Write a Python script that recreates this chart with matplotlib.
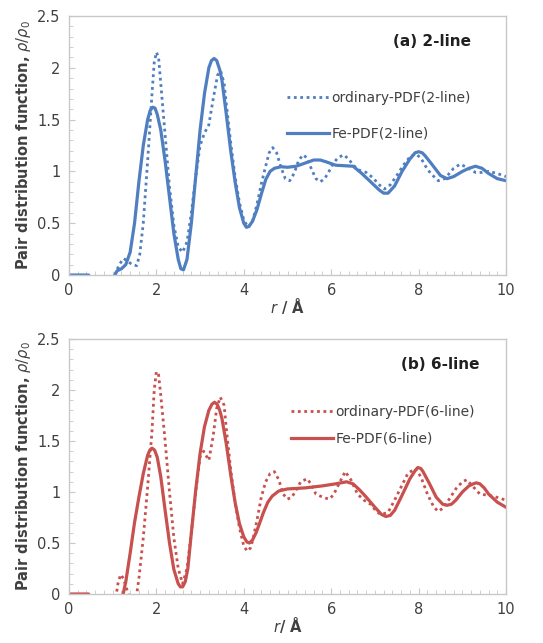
import matplotlib
matplotlib.use('Agg')
import matplotlib.pyplot as plt
from matplotlib.ticker import MultipleLocator, FormatStrFormatter

# ---- (a) 2-line ----
r_fe_2 = [0, 0.45, 0.6, 0.8, 1.0, 1.05, 1.1, 1.2, 1.3, 1.4, 1.5, 1.6, 1.7, 1.8, 1.86, 1.92, 1.97, 2.02,
          2.1, 2.2, 2.3, 2.4, 2.5, 2.56, 2.62, 2.7, 2.8, 2.9, 3.0, 3.1, 3.2, 3.26, 3.32, 3.38, 3.45, 3.5,
          3.6, 3.7, 3.8, 3.9, 4.0, 4.06, 4.12, 4.2, 4.3, 4.4, 4.5, 4.6, 4.7, 4.85, 5.0, 5.2, 5.4, 5.6,
          5.75, 5.9, 6.1, 6.3, 6.5, 6.7, 6.9, 7.1, 7.2, 7.3, 7.45, 7.62, 7.8, 7.92, 8.0, 8.08, 8.15, 8.3,
          8.5, 8.65, 8.8, 9.0, 9.15, 9.3, 9.45, 9.6, 9.8, 10.0]
g_fe_2 = [0, 0, -0.15, -0.2, -0.05, 0, 0.04, 0.06, 0.1, 0.22, 0.5, 0.9, 1.25, 1.5, 1.59, 1.62, 1.61,
          1.55, 1.4, 1.1, 0.75, 0.4, 0.15, 0.06, 0.05, 0.15, 0.5, 0.95, 1.4, 1.75, 2.0, 2.07, 2.09, 2.07,
          1.98, 1.88, 1.55, 1.2, 0.9, 0.65, 0.5, 0.46, 0.47, 0.52, 0.63, 0.78, 0.92, 1.0, 1.03, 1.045,
          1.04, 1.05, 1.08, 1.11, 1.11, 1.09, 1.06, 1.055, 1.05, 0.98, 0.9, 0.82, 0.79, 0.79, 0.86, 1.0,
          1.12, 1.18, 1.19, 1.18, 1.15, 1.07, 0.96, 0.93, 0.95, 1.0, 1.03, 1.05, 1.03, 0.98, 0.93, 0.91]

r_ord_2 = [1.05, 1.15, 1.25, 1.35, 1.45, 1.55, 1.62, 1.7, 1.8, 1.9, 1.95, 2.0, 2.05, 2.1, 2.2, 2.3, 2.4,
           2.5, 2.6, 2.7, 2.8, 2.9, 3.0, 3.1, 3.2, 3.3, 3.4, 3.47, 3.55, 3.6, 3.7, 3.8, 3.9, 4.0, 4.1,
           4.2, 4.3, 4.4, 4.5, 4.58, 4.66, 4.75, 4.85, 4.95, 5.05, 5.15, 5.25, 5.35, 5.45, 5.55, 5.65,
           5.75, 5.85, 5.95, 6.05, 6.15, 6.28, 6.4, 6.5, 6.65, 6.8, 6.95, 7.1, 7.22, 7.35, 7.5, 7.65,
           7.8, 7.93, 8.05, 8.2, 8.3, 8.45, 8.6, 8.8, 8.95, 9.1, 9.3, 9.45, 9.6, 9.8, 10.0]
g_ord_2 = [0, 0.1, 0.16, 0.13, 0.1, 0.09, 0.2, 0.5, 1.1, 1.75, 2.05, 2.15, 2.1, 1.85, 1.35, 0.85, 0.48,
           0.27, 0.22, 0.32, 0.6, 0.95, 1.25, 1.37, 1.45, 1.7, 1.93, 1.97, 1.85, 1.65, 1.28, 0.95, 0.7,
           0.53, 0.46, 0.52, 0.68, 0.88, 1.05, 1.18, 1.23, 1.18, 1.04, 0.93, 0.91, 0.98, 1.1, 1.16, 1.13,
           1.02, 0.93, 0.9, 0.93, 1.0, 1.08, 1.13, 1.16, 1.12, 1.06, 1.01, 0.99, 0.94, 0.87, 0.83, 0.87,
           0.96, 1.06, 1.14, 1.17, 1.13, 1.02, 0.97, 0.91, 0.93, 1.03, 1.07, 1.04, 0.99, 0.99, 1.0, 0.98,
           0.95]

# ---- (b) 6-line ----
r_fe_6 = [0, 0.45, 0.6, 0.8, 1.0, 1.2, 1.24, 1.3, 1.4, 1.5, 1.6, 1.7, 1.8, 1.85, 1.9, 1.96, 2.02, 2.1,
          2.2, 2.3, 2.4, 2.5, 2.55, 2.6, 2.66, 2.72, 2.8, 2.9, 3.0, 3.1, 3.2, 3.27, 3.33, 3.39, 3.45,
          3.5, 3.6, 3.7, 3.8, 3.9, 4.0, 4.07, 4.13, 4.2, 4.28, 4.35, 4.45, 4.55, 4.65, 4.8, 5.0, 5.4,
          5.8, 6.1, 6.35, 6.5, 6.65, 6.8, 7.0, 7.15, 7.25, 7.35, 7.45, 7.6, 7.8, 7.92, 7.98, 8.05, 8.1,
          8.25, 8.4, 8.55, 8.65, 8.75, 8.85, 9.0, 9.15, 9.25, 9.32, 9.4, 9.5, 9.6, 9.8, 10.0]
g_fe_6 = [0, 0, -0.4, -0.6, -0.5, -0.1, 0, 0.12, 0.4, 0.7, 0.95, 1.18, 1.36, 1.41, 1.43, 1.41, 1.34,
          1.15, 0.82, 0.5, 0.24, 0.1, 0.07, 0.07, 0.12, 0.25, 0.6, 1.02, 1.38, 1.64, 1.8, 1.86, 1.88,
          1.86, 1.8, 1.72, 1.47, 1.17, 0.9, 0.69, 0.56, 0.51, 0.5, 0.53, 0.6, 0.68, 0.8, 0.9, 0.96, 1.01,
          1.03, 1.04, 1.06, 1.08, 1.1, 1.08, 1.02, 0.95, 0.85, 0.78, 0.76, 0.77, 0.82, 0.95, 1.13, 1.21,
          1.24, 1.23, 1.2, 1.08, 0.95, 0.88, 0.87, 0.88, 0.92, 1.0, 1.06, 1.08, 1.09, 1.08, 1.04, 0.98,
          0.9, 0.85]

r_ord_6 = [1.05, 1.12, 1.18, 1.25, 1.32, 1.4, 1.5, 1.55, 1.6, 1.7, 1.8, 1.9, 1.95, 2.0, 2.05, 2.1, 2.2,
           2.3, 2.4, 2.5, 2.6, 2.7, 2.8, 2.9, 3.0, 3.08, 3.2, 3.3, 3.38, 3.46, 3.55, 3.6, 3.7, 3.8, 3.9,
           4.0, 4.08, 4.15, 4.2, 4.3, 4.4, 4.5, 4.6, 4.7, 4.8, 4.9, 5.0, 5.1, 5.2, 5.3, 5.45, 5.55, 5.65,
           5.8, 5.95, 6.05, 6.2, 6.32, 6.45, 6.6, 6.75, 6.9, 7.05, 7.15, 7.3, 7.45, 7.6, 7.75, 7.92, 8.05,
           8.2, 8.35, 8.45, 8.55, 8.7, 8.85, 9.0, 9.1, 9.25, 9.4, 9.55, 9.7, 9.85, 10.0]
g_ord_6 = [-0.1, 0.1, 0.19, 0.15, 0.05, -0.05, -0.1, 0.0, 0.15, 0.55, 1.05, 1.6, 2.0, 2.18, 2.15, 1.95,
           1.5, 1.0, 0.55, 0.25, 0.1, 0.25, 0.6, 1.0, 1.35, 1.4, 1.31, 1.55, 1.82, 1.93, 1.85, 1.62, 1.22,
           0.9, 0.65, 0.47, 0.42, 0.45, 0.52, 0.72, 0.95, 1.1, 1.18, 1.2, 1.12, 0.98, 0.93, 0.95, 1.02,
           1.1, 1.13, 1.07, 0.98, 0.95, 0.93, 0.97, 1.1, 1.2, 1.12, 0.98, 0.92, 0.88, 0.8, 0.78, 0.8,
           0.92, 1.05, 1.18, 1.23, 1.15, 0.98, 0.85, 0.81, 0.84, 0.93, 1.03, 1.1, 1.12, 1.05, 0.98, 0.97,
           0.96, 0.94, 0.92]

BLUE = '#4f7fc0'
RED = '#c8504e'
GRID_GRAY = '#c8c8c8'
TEXT = '#404040'

plt.rcParams['font.family'] = ['DejaVu Sans']
plt.rcParams['mathtext.fontset'] = 'dejavusans'

fig = plt.figure(figsize=(5.43, 6.43), dpi=100)
ax1 = fig.add_axes([0.127, 0.5723, 0.805, 0.4028])
ax2 = fig.add_axes([0.127, 0.0762, 0.805, 0.3966])


def style_axes(ax, xlabel):
    ax.set_xlim(0, 10)
    ax.set_ylim(0, 2.5)
    ax.xaxis.set_major_locator(MultipleLocator(2))
    ax.xaxis.set_minor_locator(MultipleLocator(0.2))
    ax.yaxis.set_major_locator(MultipleLocator(0.5))
    ax.yaxis.set_minor_locator(MultipleLocator(0.1))
    ax.xaxis.set_major_formatter(FormatStrFormatter('%g'))
    ax.yaxis.set_major_formatter(FormatStrFormatter('%g'))
    ax.tick_params(which='both', direction='in', color=GRID_GRAY, labelsize=10.5,
                   labelcolor=TEXT, pad=6)
    ax.tick_params(which='major', length=4)
    ax.tick_params(which='minor', length=3)
    for s in ax.spines.values():
        s.set_color(GRID_GRAY)
        s.set_linewidth(1.0)
    ax.set_ylabel(r'Pair distribution function, $\rho/\rho_0$', fontsize=10.5,
                  fontweight='bold', color=TEXT, labelpad=3)
    ax.set_xlabel(xlabel, fontsize=10.5, fontweight='bold', color=TEXT, labelpad=-2)


# top panel
ax1.plot(r_ord_2, g_ord_2, color=BLUE, lw=2.0, ls=(0, (1, 1.3)), label='ordinary-PDF(2-line)')
ax1.plot(r_fe_2, g_fe_2, color=BLUE, lw=2.3, label='Fe-PDF(2-line)')
style_axes(ax1, r'$\mathit{r}$ / Å')
ax1.text(0.92, 0.9, '(a) 2-line', transform=ax1.transAxes, ha='right', va='center',
         fontsize=11, fontweight='bold', color='#202020')
ax1.legend(loc='upper left', bbox_to_anchor=(0.47, 0.76), frameon=False, fontsize=10,
           handlelength=3.0, handletextpad=0.2, labelspacing=1.6, labelcolor=TEXT)

# bottom panel
ax2.plot(r_ord_6, g_ord_6, color=RED, lw=2.0, ls=(0, (1, 1.3)), label='ordinary-PDF(6-line)')
ax2.plot(r_fe_6, g_fe_6, color=RED, lw=2.3, label='Fe-PDF(6-line)')
style_axes(ax2, r'$\mathit{r}$/ Å')
ax2.text(0.94, 0.9, '(b) 6-line', transform=ax2.transAxes, ha='right', va='center',
         fontsize=11, fontweight='bold', color='#202020')
ax2.legend(loc='upper left', bbox_to_anchor=(0.48, 0.79), frameon=False, fontsize=10,
           handlelength=3.0, handletextpad=0.2, labelspacing=0.9, labelcolor=TEXT)

fig.savefig('out.png', dpi=100)
